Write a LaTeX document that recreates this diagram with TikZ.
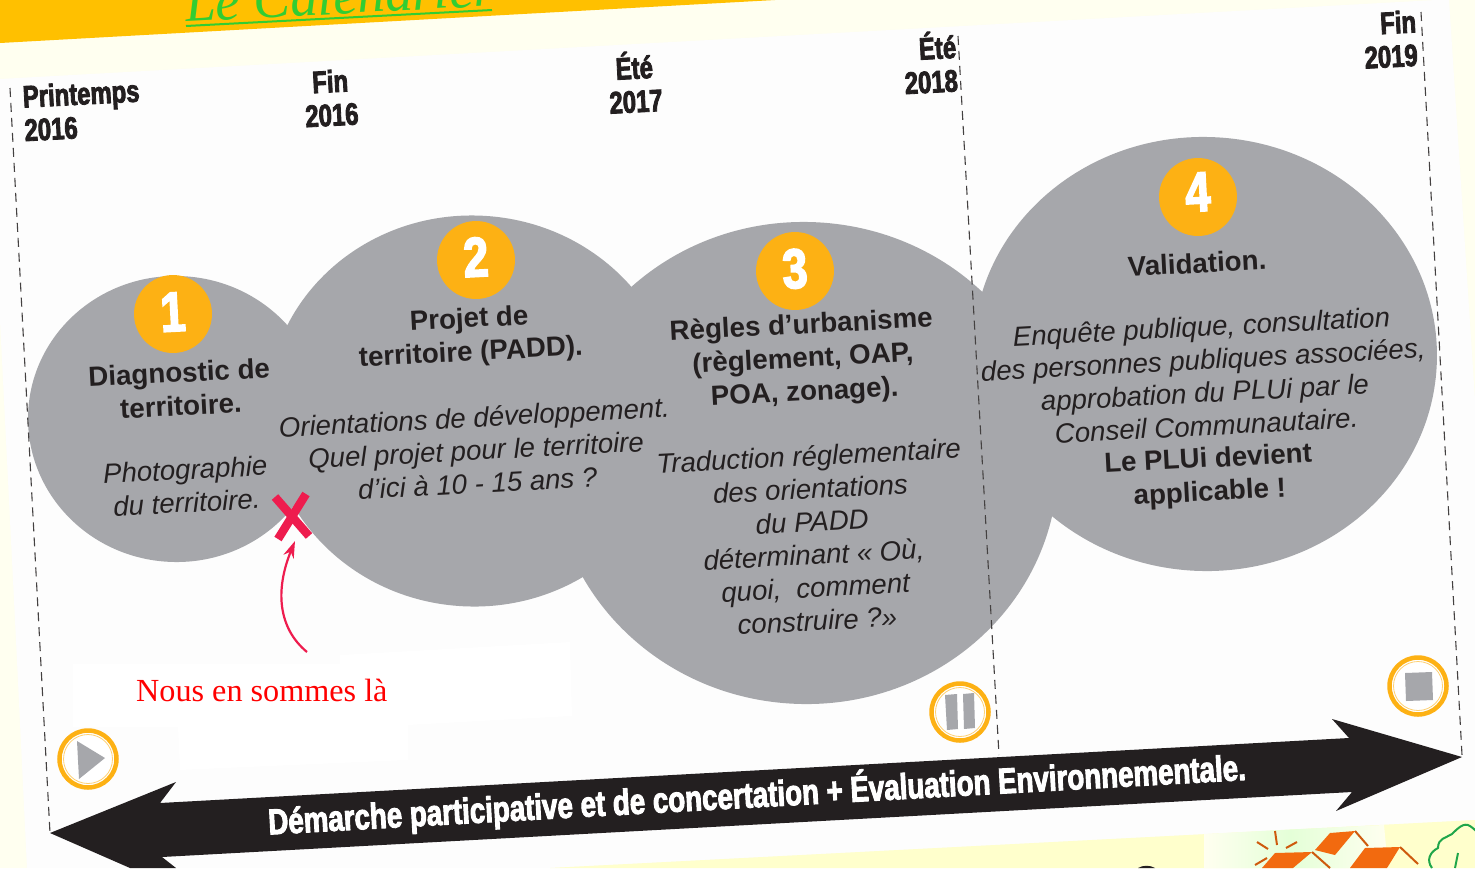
\documentclass[tikz,border=0pt]{standalone}
\usepackage{fontspec}
\setmainfont{Liberation Sans}
\newfontfamily\antonf[FakeStretch=0.77,FakeBold=2.6]{Liberation Sans Bold}
\newfontfamily\numf[FakeStretch=0.8,FakeBold=3]{Liberation Sans Bold}
\newfontfamily\titlef{Liberation Serif}
\newfontfamily\redf{Liberation Serif}
\usetikzlibrary{arrows.meta,shapes.geometric}
\definecolor{pale}{HTML}{FFFFF0}
\definecolor{band}{HTML}{FFC000}
\definecolor{greyb}{HTML}{A6A7AB}
\definecolor{orangec}{HTML}{FDB114}
\definecolor{inkc}{HTML}{231F20}
\definecolor{crimson}{HTML}{EE1C4E}
\definecolor{housec}{HTML}{F26A0F}
\definecolor{offw}{HTML}{FDFDFD}
\definecolor{titleg}{RGB}{50,205,50}
\definecolor{yel}{HTML}{FFFFCC}
\definecolor{treeg}{HTML}{1FA64A}
\tikzset{
  x=1pt,y=-1pt,
  blob/.style={fill=greyb,draw=none,rotate=-3},
  numdisc/.style={circle,fill=orangec,draw=none,minimum size=78pt,inner sep=0pt,text=white,font=\numf\fontsize{56}{56}\selectfont,rotate=3},
  datelab/.style={align=center,text=inkc,font=\antonf\fontsize{31}{33.5}\selectfont,rotate=3,inner sep=0pt},
  headlab/.style={align=center,text=inkc,font=\bfseries\fontsize{27.7}{33.5}\selectfont,rotate=3,inner sep=0pt},
  bodylab/.style={align=center,text=inkc,font=\itshape\fontsize{27.6}{33}\selectfont,rotate=3,inner sep=0pt},
  tick/.style={draw=inkc!85,line width=1.1pt,dash pattern=on 9pt off 6pt},
  ringdisc/.style={circle,draw=orangec,line width=4.5pt,fill=white,minimum size=57pt,inner sep=0pt},
  ringin/.style={circle,draw=orangec!60,line width=.8pt,minimum size=49pt,inner sep=0pt},
}
\begin{document}
\begin{tikzpicture}
\useasboundingbox (0,0) rectangle (1475,868);
\fill[pale] (0,0) rectangle (1475,868);
% sheet
\fill[offw] (0,79) -- (1436,0) -- (1449,0) -- (1475,400) -- (1475,820) -- (1150,837) -- (550,868) -- (27,868) -- (16,640) -- (0,320) -- cycle;
\fill[white] (73,664) -- (340,664) -- (340,655) -- (570,642) -- (572,716) -- (408,725) -- (408,760) -- (180,770) -- (178,727) -- (73,727) -- cycle;
% lower page and its picture
\fill[yel] (1475,820) -- (1150,837) -- (550,868) -- (1475,868) -- cycle;
\shade[left color=white!70!yel,right color=yel!70!green!35!white] (1204,834) -- (1290,829.5) -- (1290,868) -- (1204,868) -- cycle;
\shade[left color=yel!70!green!35!white,right color=white!70!yel] (1290,829.5) -- (1384,825) -- (1388,868) -- (1290,868) -- cycle;
\fill[inkc] (1138,868) .. controls (1143,865) and (1150,865) .. (1155,868) -- cycle;
\fill[housec] (1315,850) -- (1330,833) -- (1355,831) -- (1335,855) -- cycle;
\draw[housec!85!black,line width=2pt] (1355,831) -- (1368,846);
\fill[housec] (1262,868) -- (1275,853) -- (1312,852) -- (1293,868) -- cycle;
\draw[housec!85!black,line width=2pt] (1312,852) -- (1330,868);
\fill[housec] (1350,868) -- (1365,848) -- (1400,847) -- (1387,868) -- cycle;
\draw[housec!85!black,line width=2pt] (1400,847) -- (1418,864);
\draw[housec!85!black,line width=2pt] (1257,842) -- (1268,849);
\draw[housec!85!black,line width=2pt] (1275,831) -- (1277,845);
\draw[housec!85!black,line width=2pt] (1286,848) -- (1297,842);
\draw[housec!85!black,line width=2pt] (1255,865) -- (1267,858);
\draw[treeg,line width=2pt] (1432,868) .. controls (1426,860) and (1430,852) .. (1438,848) .. controls (1438,838) and (1446,838) .. (1452,834) .. controls (1458,828) and (1464,822) .. (1470,826) .. controls (1473,828) and (1475,830) .. (1476,831);
\draw[treeg,line width=2pt] (1458,853) -- (1455,868);
% header band
\fill[band] (0,0) -- (775,0) -- (0,43) -- cycle;
\node[rotate=3,text=titleg,font=\titlef\itshape\fontsize{55}{55}\selectfont,anchor=base west,inner sep=0pt] (title) at (186,22) {Le Calendrier};
\draw[line width=2pt,titleg] (186,26) -- (492,10);
% blobs
\node[blob,ellipse,minimum width=296pt,minimum height=286pt,inner sep=0pt] (b1) at (176,419) {};
\node[blob,ellipse,minimum width=412pt,minimum height=391pt,inner sep=0pt] (b2) at (473,411) {};
\node[blob,ellipse,minimum width=506pt,minimum height=482pt,inner sep=0pt] (b3) at (805,463) {};
\node[blob,ellipse,minimum width=464pt,minimum height=434pt,inner sep=0pt] (b4) at (1205,354) {};
% dashed ticks
\coordinate (t1a) at (10,88); \coordinate (t1b) at (50,833);
\coordinate (t2a) at (958,36); \coordinate (t2b) at (999,755);
\coordinate (t3a) at (1421,12); \coordinate (t3b) at (1462,755);
\draw[tick] (t1a) -- (t1b);
\draw[tick] (t2a) -- (t2b);
\draw[tick] (t3a) -- (t3b);
% dates
\node[datelab,align=left,anchor=north west] (d1) at (22,85) {Printemps\\2016};
\node[datelab] (d2) at (331,98) {Fin\\2016};
\node[datelab] (d3) at (635,82) {Été\\2017};
\node[datelab,align=right,anchor=east] (d4) at (957,61) {Été\\2018};
\node[datelab,align=right,anchor=east] (d5) at (1417,38) {Fin\\2019};
% discs
\node[numdisc] (n1) at (173,314) {\raisebox{4pt}{1}};
\node[numdisc] (n2) at (476,260) {\raisebox{6pt}{2}};
\node[numdisc] (n3) at (795,271) {\raisebox{5pt}{3}};
\node[numdisc] (n4) at (1198,197) {\raisebox{10pt}{4}};
% texts
\node[headlab] (h1) at (180,389) {Diagnostic de\\territoire.};
\node[bodylab] (t1) at (186,486) {Photographie\\du territoire.};
\node[headlab] (h2) at (470,337) {Projet de\\territoire (PADD).};
\node[bodylab] (t2) at (476,450) {Orientations de développement.\\Quel projet pour le territoire\\d’ici à 10 - 15 ans ?};
\node[headlab] (h3) at (803,360) {Règles d’urbanisme\\(règlement, OAP,\\POA, zonage).};
\node[bodylab] (t3) at (813,538) {Traduction réglementaire\\des orientations\\du PADD\\déterminant « Où,\\quoi,\ \ comment\\construire ?»};
\node[headlab] (h4) at (1197,263) {Validation.};
\node[bodylab] (t4) at (1204,376) {Enquête publique, consultation\\des personnes publiques associées,\\approbation du PLUi par le\\Conseil Communautaire.};
\node[headlab] (h5) at (1209,477) {Le PLUi devient\\applicable !};
% marker
\coordinate (xc) at (292,517);
\draw[crimson,line width=8.5pt] (275,497) -- (309,536);
\draw[crimson,line width=8.5pt] (306,494) -- (278,539);
\node[inner sep=0pt,minimum size=1pt] (xm) at (xc) {};
\coordinate (af) at (307,652);
\draw[crimson,line width=2.2pt,-{Stealth[length=17pt,width=11pt]}] (af) .. controls (278,628) and (275,590) .. (295,541);
\node[anchor=base west,inner sep=0pt,text=red,font=\redf\fontsize{32.2}{32.2}\selectfont] (lab) at (136,701) {Nous en sommes là};
% buttons
\node[ringdisc] (r1) at (88,759) {}; \node[ringin] at (88,759) {};
\fill[greyb] (77,741) -- (105,758) -- (79,779) -- cycle;
\node[ringdisc] (r2) at (960,712) {}; \node[ringin] at (960,712) {};
\fill[greyb] (945,695) -- (957,694) -- (958,729) -- (947,730) -- cycle;
\fill[greyb] (963,694) -- (974,693) -- (975,728) -- (964,729) -- cycle;
\node[ringdisc] (r3) at (1418,686) {}; \node[ringin] at (1418,686) {};
\fill[greyb] (1405,673) -- (1432,672) -- (1433,700) -- (1406,701) -- cycle;
% big arrow
\fill[inkc] (50,833) -- (176,782) -- (160,803) -- (1349,738) -- (1332,719) -- (1462,757) -- (1336,811) -- (1352,792) -- (162,857) -- (176,868) -- (130,868) -- cycle;
\node[rotate=3.2,text=white,inner sep=0pt,font=\antonf\fontsize{36}{36}\selectfont] (bar) at (757,795) {Démarche participative et de concertation + Évaluation Environnementale.};
\end{tikzpicture}
\end{document}
